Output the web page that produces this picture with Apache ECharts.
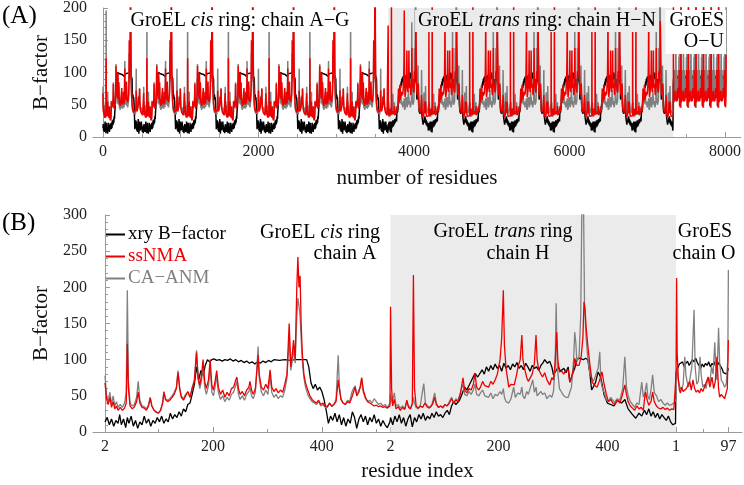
<!DOCTYPE html>
<html><head><meta charset="utf-8">
<script src="https://cdn.jsdelivr.net/npm/echarts@6/dist/echarts.min.js"></script>
<style>html,body{margin:0;padding:0;background:#fff}#c{width:744px;height:485px}</style>
</head><body><div id="c"></div>
<script>
// ---- chain sizes ----
const groELChainLength = 524;   // residues 2..525
const groESChainLength = 97;    // residues 1..97
const groELChainsPerRing = 7;
const groESChains = 7;

// ---- Panel B per-chain data: [local residue index, B-factor] ----
// chain A (GroEL cis ring)
const xryA = [[0,14],[4,20],[8,10],[12,18],[16,8],[20,16],[24,12],[27,24],[30,10],[34,18],[38,6],[41,20],[44,12],[48,22],[52,8],[56,16],[60,5],[64,14],[68,10],[72,22],[76,12],[80,18],[84,8],[88,16],[92,12],[96,20],[100,14],[104,22],[108,12],[112,18],[116,14],[120,26],[124,18],[128,24],[132,20],[136,28],[140,22],[144,32],[148,28],[152,38],[156,40],[160,52],[164,66],[168,90],[172,72],[176,85],[180,78],[184,92],[188,100],[192,97],[196,100],[200,101],[205,99],[210,100],[215,98],[220,100],[225,99],[230,101],[235,98],[240,100],[245,97],[250,99],[255,96],[260,98],[265,95],[270,97],[275,94],[280,97],[285,95],[290,98],[295,96],[300,99],[305,97],[310,100],[320,99],[330,100],[340,99],[350,100],[360,100],[370,100],[374,90],[378,68],[382,60],[386,66],[390,58],[394,62],[398,56],[402,45],[406,30],[410,12],[414,22],[418,16],[422,26],[426,14],[430,24],[434,10],[438,20],[442,8],[446,18],[450,12],[454,28],[458,20],[462,5],[466,18],[470,24],[474,14],[478,22],[482,10],[486,20],[490,14],[494,24],[498,12],[502,18],[506,8],[510,16],[514,10],[518,6],[523,14]];
const ssA = [[0,68],[3,45],[6,38],[9,48],[12,34],[15,42],[18,32],[21,36],[24,30],[28,34],[32,30],[36,33],[39,40],[41,122],[43,60],[46,36],[50,32],[54,35],[58,42],[61,55],[64,40],[68,34],[72,33],[76,30],[80,36],[83,47],[86,36],[90,30],[94,28],[98,26],[102,30],[106,40],[108,55],[111,45],[115,42],[119,44],[123,48],[127,52],[131,60],[134,82],[137,60],[140,48],[144,44],[148,50],[152,56],[156,48],[160,60],[164,70],[168,110],[171,75],[174,65],[177,78],[180,100],[183,70],[186,60],[190,72],[193,100],[196,65],[199,58],[202,70],[205,85],[208,62],[212,52],[216,58],[220,48],[224,55],[228,50],[232,60],[236,62],[240,72],[242,76],[245,60],[248,52],[252,56],[256,50],[260,58],[264,62],[266,70],[269,58],[272,52],[276,60],[280,95],[281,106],[283,80],[287,62],[291,58],[295,66],[299,60],[303,86],[306,62],[310,56],[314,60],[318,54],[322,58],[326,55],[330,66],[334,80],[338,150],[341,90],[344,110],[346,127],[349,100],[352,200],[354,242],[356,200],[358,216],[360,150],[362,110],[365,80],[368,68],[372,58],[376,50],[380,45],[384,42],[388,40],[392,44],[396,38],[400,40],[404,36],[408,35],[412,40],[416,36],[420,38],[424,42],[428,72],[430,60],[433,45],[437,40],[441,38],[445,42],[449,40],[453,48],[456,55],[459,62],[462,50],[466,55],[469,65],[471,75],[474,58],[478,48],[482,42],[486,40],[490,38],[494,36],[498,37],[502,35],[506,36],[510,34],[514,35],[518,33],[523,36]];
const anmA = [[0,78],[3,50],[6,42],[9,55],[12,38],[15,50],[18,36],[21,42],[24,34],[28,38],[32,34],[36,40],[39,55],[41,196],[43,70],[46,40],[50,36],[54,38],[58,48],[61,70],[64,44],[68,36],[72,35],[76,32],[80,38],[83,48],[86,36],[90,30],[94,27],[98,26],[102,30],[106,42],[108,56],[111,46],[115,44],[119,46],[123,50],[127,55],[131,62],[134,85],[137,62],[140,50],[144,46],[148,52],[152,55],[156,48],[160,62],[164,72],[168,113],[171,72],[174,60],[177,70],[180,90],[183,62],[186,52],[190,64],[193,92],[196,55],[199,50],[202,62],[205,78],[208,55],[212,45],[216,50],[220,42],[224,48],[228,44],[232,52],[236,55],[240,65],[242,70],[245,52],[248,45],[252,50],[256,44],[260,52],[264,56],[266,62],[269,50],[272,46],[276,55],[280,105],[281,118],[283,75],[287,55],[291,50],[295,58],[299,52],[303,78],[306,55],[310,48],[314,52],[318,46],[322,50],[326,48],[330,58],[334,75],[338,130],[341,85],[344,100],[346,115],[349,95],[352,160],[354,185],[356,175],[358,160],[360,130],[362,100],[365,75],[368,62],[372,52],[376,46],[380,42],[384,40],[388,38],[392,42],[396,36],[400,38],[404,34],[408,34],[412,40],[416,35],[420,38],[424,45],[428,106],[430,65],[433,46],[437,40],[441,38],[445,44],[449,42],[453,55],[456,60],[459,64],[462,52],[466,58],[469,62],[471,75],[474,55],[478,46],[482,42],[486,44],[490,40],[494,46],[498,42],[502,38],[506,40],[510,36],[514,38],[518,34],[523,40]];
// chain H (GroEL trans ring)
const xryH = [[0,20],[4,10],[8,22],[12,14],[16,24],[20,12],[24,20],[28,8],[32,18],[36,24],[40,7],[44,20],[48,14],[52,24],[56,18],[60,26],[64,16],[68,22],[72,18],[76,26],[80,20],[84,28],[88,22],[92,24],[96,20],[100,26],[104,30],[108,24],[112,36],[116,42],[120,38],[126,43],[130,50],[136,62],[140,58],[149,72],[155,81],[160,76],[168,86],[172,80],[176,90],[180,84],[184,92],[188,86],[192,94],[196,88],[200,92],[204,84],[208,95],[212,88],[216,92],[220,86],[224,94],[228,90],[232,96],[236,88],[240,92],[244,86],[248,95],[252,90],[256,84],[260,92],[264,88],[268,90],[272,85],[276,92],[280,96],[283,100],[288,95],[292,98],[296,90],[299,79],[304,85],[308,90],[312,84],[318,88],[322,82],[326,90],[329,69],[334,80],[338,88],[342,100],[346,102],[350,101],[354,100],[358,102],[362,100],[366,80],[369,58],[372,62],[376,68],[381,83],[386,75],[392,51],[398,40],[404,38],[410,36],[416,44],[424,40],[430,45],[436,32],[443,25],[450,19],[456,26],[461,22],[466,30],[470,24],[474,32],[478,22],[482,28],[486,20],[490,26],[494,18],[498,24],[502,20],[506,16],[510,22],[514,14],[518,10],[523,12]];
const ssH = [[0,173],[2,60],[4,36],[7,45],[10,32],[14,35],[18,30],[22,34],[26,31],[30,44],[33,34],[37,32],[40,40],[42,217],[44,60],[47,36],[51,33],[55,36],[59,34],[63,40],[67,35],[71,33],[75,36],[78,40],[81,48],[84,38],[88,34],[92,36],[96,34],[100,38],[104,36],[108,40],[112,46],[116,40],[120,44],[124,42],[128,52],[131,66],[133,75],[136,58],[140,54],[144,60],[148,58],[152,66],[155,81],[158,62],[162,58],[165,62],[169,70],[173,64],[176,66],[180,62],[184,70],[188,66],[192,72],[196,80],[201,100],[204,130],[207,196],[209,120],[212,88],[217,62],[221,66],[227,65],[231,78],[234,90],[238,100],[241,134],[243,100],[246,88],[250,75],[253,70],[256,69],[260,80],[264,95],[267,134],[269,100],[272,86],[276,80],[279,76],[283,82],[287,72],[292,65],[296,75],[299,72],[302,95],[305,138],[307,100],[310,83],[314,84],[318,80],[322,86],[326,86],[329,69],[332,75],[336,88],[338,102],[342,92],[346,92],[350,105],[353,130],[355,180],[357,170],[359,144],[362,120],[366,92],[370,69],[374,65],[379,62],[383,70],[388,83],[392,66],[396,52],[400,42],[404,45],[408,40],[412,38],[416,44],[421,40],[425,50],[430,65],[433,52],[436,42],[440,36],[444,33],[448,30],[452,36],[456,32],[460,34],[464,30],[466,45],[468,55],[471,44],[474,37],[478,42],[481,55],[484,42],[488,36],[492,33],[496,32],[500,34],[504,31],[508,33],[512,30],[516,32],[520,31],[523,33]];
const anmH = [[0,52],[3,40],[7,54],[10,36],[14,38],[18,33],[22,36],[26,32],[30,42],[33,36],[37,34],[40,38],[42,48],[44,40],[47,34],[51,32],[55,38],[59,58],[61,67],[64,40],[68,36],[72,34],[76,38],[81,54],[84,40],[88,34],[92,36],[96,33],[100,38],[104,36],[108,42],[112,48],[116,40],[120,46],[124,44],[128,54],[131,62],[133,66],[136,52],[140,50],[144,56],[148,52],[152,58],[155,66],[158,52],[162,50],[165,54],[169,58],[173,50],[176,52],[180,48],[184,54],[188,46],[192,52],[196,50],[201,56],[204,52],[207,60],[209,48],[212,42],[217,40],[221,46],[226,62],[229,48],[234,54],[238,52],[241,62],[243,50],[246,46],[250,56],[253,52],[256,60],[261,72],[264,55],[267,62],[269,50],[272,48],[276,56],[279,52],[283,54],[287,46],[292,51],[296,48],[299,56],[302,90],[304,178],[306,90],[310,60],[314,55],[318,50],[322,48],[326,48],[329,55],[332,62],[336,100],[338,138],[340,124],[342,97],[346,105],[349,160],[351,300],[354,330],[356,176],[359,130],[362,102],[366,80],[369,75],[372,70],[375,75],[378,82],[381,88],[384,111],[386,70],[389,60],[392,55],[396,45],[400,42],[404,48],[408,44],[411,41],[416,46],[421,44],[426,60],[430,104],[433,62],[436,50],[440,42],[444,38],[448,34],[452,40],[456,38],[461,69],[464,48],[467,55],[470,68],[472,50],[475,45],[478,58],[481,79],[484,55],[488,50],[492,42],[496,45],[500,40],[504,37],[508,40],[512,37],[516,38],[520,40],[523,38]];
// chain O (GroES)
const xryO = [[0,82],[3,88],[6,94],[9,92],[12,97],[15,90],[18,95],[21,98],[24,92],[27,96],[30,100],[33,97],[36,102],[39,96],[42,92],[45,88],[48,94],[51,90],[54,95],[57,92],[60,97],[63,90],[66,95],[69,92],[72,98],[75,90],[78,96],[81,92],[84,88],[87,82],[90,84],[93,80],[96,88]];
const ssO = [[0,80],[1,213],[2,110],[4,76],[6,58],[8,54],[10,62],[13,56],[16,55],[19,60],[22,58],[25,70],[28,58],[31,72],[34,60],[37,55],[40,58],[43,54],[46,60],[49,56],[52,62],[55,60],[59,76],[62,62],[66,76],[69,60],[72,70],[75,104],[78,60],[80,48],[83,52],[86,50],[89,46],[92,44],[94,60],[96,127]];
const anmO = [[0,45],[1,80],[2,90],[4,72],[7,62],[10,58],[13,66],[16,104],[18,80],[20,70],[23,62],[26,60],[29,90],[33,169],[35,90],[38,66],[41,70],[44,104],[46,80],[49,62],[52,66],[55,60],[59,76],[62,68],[65,90],[68,80],[71,124],[73,90],[75,72],[78,144],[80,96],[83,72],[86,68],[89,62],[92,66],[95,100],[96,224]];

// ---- tick labels ----
const panelATickValues = [0, 2000, 4000, 6000, 8000];
const panelAMinorTicks = [500,1000,1500,2500,3000,3500,4500,5000,5500,6500,7000,7500];
const panelBTickValues = [0, 198, 398, 524, 722, 922, 1048, 1144];
const panelBTickLabels = ['2', '200', '400', '2', '200', '400', '1', '97'];
const panelBMinorTicks = [98, 298, 498, 622, 822, 1022, 1097];

// ---- build concatenated tables ----
function shift(arr, off) { return arr.map(p => [p[0] + off, p[1]]); }
function buildB(a, h, o) {
  return [].concat(shift(a, 0), shift(h, groELChainLength), shift(o, 2 * groELChainLength));
}
function buildA(a, h, o) {
  let out = [];
  for (let k = 0; k < groELChainsPerRing; k++) out = out.concat(shift(a, k * groELChainLength));
  for (let k = 0; k < groELChainsPerRing; k++) out = out.concat(shift(h, (groELChainsPerRing + k) * groELChainLength));
  const esStart = 2 * groELChainsPerRing * groELChainLength;
  for (let k = 0; k < groESChains; k++) out = out.concat(shift(o, esStart + k * groESChainLength));
  return out;
}
const transStartA = groELChainsPerRing * groELChainLength;
const transEndA = 2 * groELChainsPerRing * groELChainLength;

const FONT = 'Liberation Serif';
const RED = '#ee0000', GRAY = '#808080', BLACK = '#000000';
const axisGray = '#9a9a9a';

function lineSeries(name, data, color, xi, yi, z, w) {
  return { name, type: 'line', data, xAxisIndex: xi, yAxisIndex: yi, showSymbol: false, symbol: 'none',
    lineStyle: { color, width: w }, itemStyle: { color }, z, animation: false, silent: true, clip: true };
}
function shadeSeries(xi, yi, from, to) {
  return { type: 'line', data: [], xAxisIndex: xi, yAxisIndex: yi, z: 1, silent: true,
    markArea: { silent: true, itemStyle: { color: '#ebebeb' }, data: [[{ xAxis: from }, { xAxis: to }]] } };
}
const tickLbl = { fontFamily: FONT, fontSize: 16, color: '#222' };
function yAx(gi, max) {
  return { gridIndex: gi, type: 'value', min: 0, max, interval: 50,
    axisLine: { show: true, lineStyle: { color: axisGray } },
    axisTick: { show: true, inside: true, length: 5, lineStyle: { color: axisGray } },
    minorTick: { show: true, splitNumber: 5, length: 3, lineStyle: { color: axisGray } },
    splitLine: { show: false }, minorSplitLine: { show: false },
    axisLabel: Object.assign({ margin: 6 }, tickLbl),
    name: 'B\u2212factor', nameLocation: 'middle', nameGap: 34,
    nameTextStyle: { fontFamily: FONT, fontSize: 21, color: '#111' } };
}

const chart = echarts.init(document.getElementById('c'), null, { renderer: 'canvas' });
const option = {
  backgroundColor: '#fff',
  animation: false,
  grid: [
    { left: 93, top: 7, width: 649, height: 130 },
    { left: 93, top: 215, width: 649, height: 217 }
  ],
  xAxis: [
    { gridIndex: 0, type: 'value', min: -128, max: 8203, position: 'bottom',
      axisLine: { lineStyle: { color: axisGray } },
      axisTick: { inside: true, length: 5, lineStyle: { color: axisGray }, customValues: panelATickValues },
      axisLabel: Object.assign({ margin: 7, customValues: panelATickValues, formatter: v => String(v) }, tickLbl),
      splitLine: { show: false },
      name: 'number of residues', nameLocation: 'middle', nameGap: 31,
      nameTextStyle: { fontFamily: FONT, fontSize: 21, color: '#111' } },
    { gridIndex: 0, type: 'value', min: -128, max: 8203, position: 'bottom',
      axisLine: { show: false },
      axisTick: { inside: true, length: 3, lineStyle: { color: axisGray }, customValues: panelAMinorTicks },
      axisLabel: { show: false }, splitLine: { show: false } },
    { gridIndex: 1, type: 'value', min: -22, max: 1169, position: 'bottom',
      axisLine: { lineStyle: { color: axisGray } },
      axisTick: { inside: true, length: 5, lineStyle: { color: axisGray }, customValues: panelBTickValues },
      axisLabel: Object.assign({ margin: 7, customValues: panelBTickValues,
        formatter: v => { const k = panelBTickValues.indexOf(v); return k >= 0 ? panelBTickLabels[k] : ''; } }, tickLbl),
      splitLine: { show: false },
      name: 'residue index', nameLocation: 'middle', nameGap: 29,
      nameTextStyle: { fontFamily: FONT, fontSize: 21, color: '#111' } },
    { gridIndex: 1, type: 'value', min: -22, max: 1169, position: 'bottom',
      axisLine: { show: false },
      axisTick: { inside: true, length: 3, lineStyle: { color: axisGray }, customValues: panelBMinorTicks },
      axisLabel: { show: false }, splitLine: { show: false } }
  ],
  yAxis: [ yAx(0, 200), yAx(1, 300) ],
  legend: {
    orient: 'vertical', left: 101, top: 219, itemWidth: 19, itemHeight: 2, itemGap: 1, icon: 'rect',
    selectedMode: false,
    textStyle: { fontFamily: FONT, fontSize: 19, lineHeight: 21, padding: [0, 0, 0, -2] },
    data: [
      { name: 'xry B\u2212factor', textStyle: { color: BLACK } },
      { name: 'ssNMA', textStyle: { color: RED } },
      { name: 'CA\u2212ANM', textStyle: { color: GRAY } }
    ]
  },
  series: [
    shadeSeries(0, 0, transStartA, transEndA),
    shadeSeries(2, 1, groELChainLength, 2 * groELChainLength),
    lineSeries('A xry', buildA(xryA, xryH, xryO), BLACK, 0, 0, 3, 1.5),
    lineSeries('A anm', buildA(anmA, anmH, anmO), GRAY, 0, 0, 4, 1.5),
    lineSeries('A ss', buildA(ssA, ssH, ssO), RED, 0, 0, 5, 1.5),
    lineSeries('xry B\u2212factor', buildB(xryA, xryH, xryO), BLACK, 2, 1, 3, 1.3),
    lineSeries('CA\u2212ANM', buildB(anmA, anmH, anmO), GRAY, 2, 1, 4, 1.3),
    lineSeries('ssNMA', buildB(ssA, ssH, ssO), RED, 2, 1, 5, 1.3)
  ],
  graphic: [
    { type: 'text', left: 2, top: 4, z: 100, style: { text: '(A)', fontFamily: FONT, fontSize: 25, fill: '#000' } },
    { type: 'text', left: 2, top: 211, z: 100, style: { text: '(B)', fontFamily: FONT, fontSize: 25, fill: '#000' } },
    { type: 'text', x: 240, y: 21, z: 100, style: {
        text: '{n|GroEL }{i|cis}{n| ring: chain A\u2212G}', align: 'center', verticalAlign: 'middle',
        backgroundColor: '#fff', padding: [1, 3, 1, 3],
        rich: { n: { fontFamily: FONT, fontSize: 20, fill: '#000' }, i: { fontFamily: FONT, fontSize: 20, fontStyle: 'italic', fill: '#000' } } } },
    { type: 'text', x: 537, y: 21, z: 100, style: {
        text: '{n|GroEL }{i|trans}{n| ring: chain H\u2212N}', align: 'center', verticalAlign: 'middle',
        backgroundColor: '#ebebeb', padding: [1, 3, 1, 3],
        rich: { n: { fontFamily: FONT, fontSize: 20, fill: '#000' }, i: { fontFamily: FONT, fontSize: 20, fontStyle: 'italic', fill: '#000' } } } },
    { type: 'text', x: 726, y: 10, z: 100, style: {
        text: 'GroES\nO\u2212U', align: 'right', verticalAlign: 'top', lineHeight: 21,
        fontFamily: FONT, fontSize: 20, fill: '#000', backgroundColor: '#fff', padding: [0, 2, 2, 4] } },
    { type: 'text', x: 320, y: 233, z: 100, style: { text: '{n|GroEL }{i|cis}{n| ring}', align: 'center', verticalAlign: 'middle',
        rich: { n: { fontFamily: FONT, fontSize: 20, fill: '#000' }, i: { fontFamily: FONT, fontSize: 20, fontStyle: 'italic', fill: '#000' } } } },
    { type: 'text', x: 345, y: 254, z: 100, style: { text: 'chain A', align: 'center', verticalAlign: 'middle', fontFamily: FONT, fontSize: 20, fill: '#000' } },
    { type: 'text', x: 503, y: 232, z: 100, style: { text: '{n|GroEL }{i|trans}{n| ring}', align: 'center', verticalAlign: 'middle',
        rich: { n: { fontFamily: FONT, fontSize: 20, fill: '#000' }, i: { fontFamily: FONT, fontSize: 20, fontStyle: 'italic', fill: '#000' } } } },
    { type: 'text', x: 518, y: 254, z: 100, style: { text: 'chain H', align: 'center', verticalAlign: 'middle', fontFamily: FONT, fontSize: 20, fill: '#000' } },
    { type: 'text', x: 705, y: 232, z: 100, style: { text: 'GroES', align: 'center', verticalAlign: 'middle', fontFamily: FONT, fontSize: 20, fill: '#000' } },
    { type: 'text', x: 704, y: 254, z: 100, style: { text: 'chain O', align: 'center', verticalAlign: 'middle', fontFamily: FONT, fontSize: 20, fill: '#000' } }
  ]
};
chart.setOption(option);
</script>
</body></html>
